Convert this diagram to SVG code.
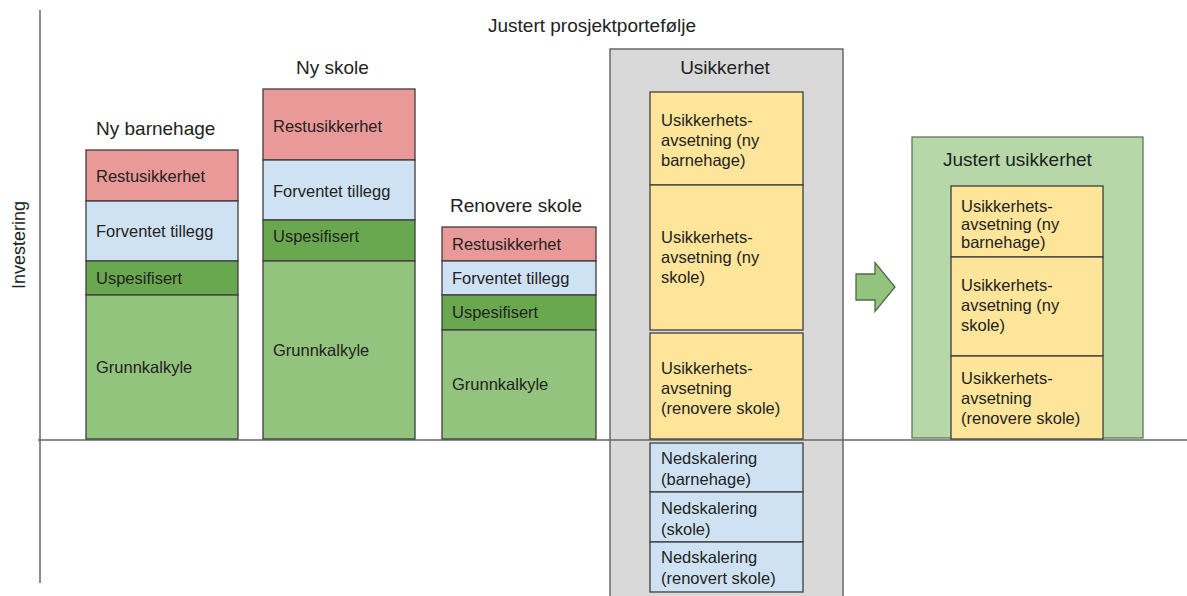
<svg xmlns="http://www.w3.org/2000/svg" width="1187" height="596" viewBox="0 0 1187 596">
  <style>
    text { font-family: "Liberation Sans", Arial, sans-serif; fill: #222; }
    .title { font-size: 19px; }
    .lbl { font-size: 16.5px; }
    .box { stroke: #3d3d3d; stroke-width: 1.3; }
    .rest { fill: #ea9999; }
    .forv { fill: #cfe2f3; }
    .usp { fill: #6aa84f; }
    .grunn { fill: #93c47d; }
    .avs { fill: #ffe599; }
    .ned { fill: #cfe2f3; }
    .axis { stroke: #666; stroke-width: 1.5; fill: none; }
  </style>

  <!-- Heading -->
  <text class="title" x="488" y="32">Justert prosjektportefølje</text>

  <!-- Y-axis label -->
  <text class="title" transform="translate(25 245) rotate(-90)" text-anchor="middle" style="font-size:18px">Investering</text>

  <!-- Uncertainty container (drawn beneath the axis) -->
  <g id="usikkerhet">
    <rect x="610" y="49" width="233" height="560" fill="#d9d9d9" stroke="#555" stroke-width="1.3"/>
    <text class="title" x="725" y="74" text-anchor="middle">Usikkerhet</text>
  </g>

  <!-- Axes -->
  <g id="axes">
    <line class="axis" x1="40" y1="10" x2="40" y2="583"/>
    <line class="axis" x1="38" y1="440" x2="1187" y2="440"/>
  </g>

  <!-- Project: Ny barnehage -->
  <g id="ny-barnehage">
    <text class="title" x="96" y="135">Ny barnehage</text>
    <rect class="box rest" x="86" y="150" width="152" height="51"/>
    <rect class="box forv" x="86" y="201" width="152" height="60"/>
    <rect class="box usp" x="86" y="261" width="152" height="34"/>
    <rect class="box grunn" x="86" y="295" width="152" height="144"/>
    <text class="lbl" x="96" y="182">Restusikkerhet</text>
    <text class="lbl" x="96" y="237">Forventet tillegg</text>
    <text class="lbl" x="96" y="284">Uspesifisert</text>
    <text class="lbl" x="96" y="373">Grunnkalkyle</text>
  </g>

  <!-- Project: Ny skole -->
  <g id="ny-skole">
    <text class="title" x="296" y="74">Ny skole</text>
    <rect class="box rest" x="263" y="89" width="152" height="71"/>
    <rect class="box forv" x="263" y="160" width="152" height="60"/>
    <rect class="box usp" x="263" y="220" width="152" height="41"/>
    <rect class="box grunn" x="263" y="261" width="152" height="178"/>
    <text class="lbl" x="273" y="132">Restusikkerhet</text>
    <text class="lbl" x="273" y="197">Forventet tillegg</text>
    <text class="lbl" x="273" y="242">Uspesifisert</text>
    <text class="lbl" x="273" y="356">Grunnkalkyle</text>
  </g>

  <!-- Project: Renovere skole -->
  <g id="renovere-skole">
    <text class="title" x="450" y="212">Renovere skole</text>
    <rect class="box rest" x="442" y="227" width="154" height="34"/>
    <rect class="box forv" x="442" y="261" width="154" height="34"/>
    <rect class="box usp" x="442" y="295" width="154" height="35"/>
    <rect class="box grunn" x="442" y="330" width="154" height="109"/>
    <text class="lbl" x="452" y="250">Restusikkerhet</text>
    <text class="lbl" x="452" y="284">Forventet tillegg</text>
    <text class="lbl" x="452" y="318">Uspesifisert</text>
    <text class="lbl" x="452" y="390">Grunnkalkyle</text>
  </g>

  <!-- Uncertainty allowances and downscaling -->
  <g id="avsetning-barnehage">
    <rect class="box avs" x="650" y="92" width="153" height="93"/>
    <text class="lbl" x="661" y="126">Usikkerhets-<tspan x="661" dy="20">avsetning (ny</tspan><tspan x="661" dy="20">barnehage)</tspan></text>
  </g>
  <g id="avsetning-skole">
    <rect class="box avs" x="650" y="185" width="153" height="145"/>
    <text class="lbl" x="661" y="243">Usikkerhets-<tspan x="661" dy="20">avsetning (ny</tspan><tspan x="661" dy="20">skole)</tspan></text>
  </g>
  <g id="avsetning-renovere">
    <rect class="box avs" x="650" y="333" width="153" height="106"/>
    <text class="lbl" x="661" y="374">Usikkerhets-<tspan x="661" dy="20">avsetning</tspan><tspan x="661" dy="20">(renovere skole)</tspan></text>
  </g>
  <g id="nedskalering-barnehage">
    <rect class="box ned" x="650" y="443" width="153" height="49"/>
    <text class="lbl" x="661" y="464">Nedskalering<tspan x="661" dy="20.5">(barnehage)</tspan></text>
  </g>
  <g id="nedskalering-skole">
    <rect class="box ned" x="650" y="492" width="153" height="50"/>
    <text class="lbl" x="661" y="514">Nedskalering<tspan x="661" dy="20.5">(skole)</tspan></text>
  </g>
  <g id="nedskalering-renovert">
    <rect class="box ned" x="650" y="542" width="153" height="50"/>
    <text class="lbl" x="661" y="563">Nedskalering<tspan x="661" dy="20.5">(renovert skole)</tspan></text>
  </g>

  <!-- Transition arrow -->
  <g id="connectors">
    <path d="M856 274 H875 V262.5 L895 287 L875 311.5 V300 H856 Z" fill="#93c47d" stroke="#4f6b47" stroke-width="1.3" stroke-linejoin="miter"/>
  </g>

  <!-- Adjusted uncertainty -->
  <g id="justert-usikkerhet">
    <rect x="912" y="137" width="231" height="301" fill="#b6d7a8" stroke="#5b7a54" stroke-width="1.3"/>
    <text class="title" x="943" y="166">Justert usikkerhet</text>
  </g>
  <g id="justert-barnehage">
    <rect class="box avs" x="951" y="186" width="152" height="71"/>
    <text class="lbl" x="961" y="212">Usikkerhets-<tspan x="961" dy="18">avsetning (ny</tspan><tspan x="961" dy="18">barnehage)</tspan></text>
  </g>
  <g id="justert-skole">
    <rect class="box avs" x="951" y="257" width="152" height="99"/>
    <text class="lbl" x="961" y="291">Usikkerhets-<tspan x="961" dy="20">avsetning (ny</tspan><tspan x="961" dy="20">skole)</tspan></text>
  </g>
  <g id="justert-renovere">
    <rect class="box avs" x="951" y="356" width="152" height="83" stroke-width="2"/>
    <text class="lbl" x="961" y="384">Usikkerhets-<tspan x="961" dy="20">avsetning</tspan><tspan x="961" dy="20">(renovere skole)</tspan></text>
  </g>
</svg>
